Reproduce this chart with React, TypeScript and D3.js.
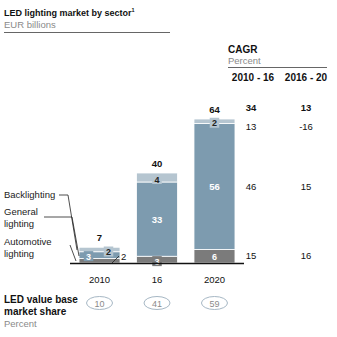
import React from "react";
import * as d3 from "d3";

const years = ["2010", "16", "2020"];
const automotive = [2, 3, 6];
const general = [3, 33, 56];
const backlighting = [2, 4, 2];
const totals = [7, 40, 64];
const ledShare = [10, 41, 59];
const cagrHeaders = ["2010 - 16", "2016 - 20"];
const cagrTotal = [34, 13];
const cagrBacklighting = [13, -16];
const cagrGeneral = [46, 15];
const cagrAutomotive = [15, 16];

const COLORS = { automotive: "#7b7b7b", general: "#7d9baf", backlighting: "#b5c5d0" };
const FONT = "Liberation Sans, Arial, sans-serif";

export default function App() {
  const x = d3.scaleBand<string>().domain(years).range([70, 244]).paddingInner(0.287).paddingOuter(0.157);
  const y = d3.scaleLinear().domain([0, 64]).range([263, 119]);
  const bw = x.bandwidth();

  const stacks = years.map((yr, i) => {
    const a0 = 0, a1 = automotive[i];
    const g0 = a1, g1 = a1 + general[i];
    const b0 = g1, b1 = g1 + backlighting[i];
    return { yr, i, segs: [
      { key: "automotive", v0: a0, v1: a1, val: automotive[i] },
      { key: "general", v0: g0, v1: g1, val: general[i] },
      { key: "backlighting", v0: b0, v1: b1, val: backlighting[i] },
    ] };
  });

  const headerX = [253, 306];
  const colX = [251, 306];
  const rowY = {
    total: y(64) - 8,
    back: y(64) + 11,
    general: (y(6) + y(62)) / 2 + 3,
    auto: (y(0) + y(6)) / 2 + 3,
  };

  const labelBox = (cx: number, cy: number, text: string, fill: string, color: string, key: string) => {
    const w = text.length * 5.5 + 4;
    return (
      <g key={key}>
        <rect x={cx - w / 2} y={cy - 5} width={w} height={10} fill={fill} />
        <text x={cx} y={cy + 3.5} textAnchor="middle" fontSize={9} fontWeight="bold" fill={color}>{text}</text>
      </g>
    );
  };

  return (
    <svg width={337} height={337} style={{ position: "fixed", left: 0, top: 0, background: "#fff" }} fontFamily={FONT}>
      {/* Title */}
      <text x={4} y={16} fontSize={9} fontWeight="bold" fill="#111">LED lighting market by sector<tspan fontSize={5.5} dy={-4}>1</tspan></text>
      <text x={4} y={28} fontSize={9.5} fill="#8a8a8a">EUR billions</text>
      <line x1={4} x2={170} y1={32.5} y2={32.5} stroke="#666" strokeWidth={1.2} />

      {/* CAGR header */}
      <text x={228} y={53} fontSize={10} fontWeight="bold" fill="#111">CAGR</text>
      <text x={228} y={64} fontSize={9.5} fill="#8a8a8a">Percent</text>
      <line x1={228} x2={327} y1={67.5} y2={67.5} stroke="#666" strokeWidth={1.2} />
      {cagrHeaders.map((h, j) => (
        <text key={h} x={headerX[j]} y={81} fontSize={10} fontWeight="bold" fill="#111" textAnchor="middle">{h}</text>
      ))}
      {colX.map((cx, j) => (
        <g key={"c" + j} fontSize={9.5} textAnchor="middle" fill="#111">
          <text x={cx} y={rowY.total} fontWeight="bold">{cagrTotal[j]}</text>
          <text x={cx} y={rowY.back}>{cagrBacklighting[j]}</text>
          <text x={cx} y={rowY.general}>{cagrGeneral[j]}</text>
          <text x={cx} y={rowY.auto}>{cagrAutomotive[j]}</text>
        </g>
      ))}

      {/* Bars */}
      {stacks.map(s => (
        <g key={s.yr}>
          {s.segs.map(seg => (
            <rect key={seg.key} x={x(s.yr)!} y={y(seg.v1)} width={bw} height={y(seg.v0) - y(seg.v1)}
              fill={(COLORS as any)[seg.key]} stroke="#fff" strokeWidth={0.8} />
          ))}
          <text x={x(s.yr)! + bw / 2} y={y(totals[s.i]) - 6} textAnchor="middle" fontSize={9.5} fontWeight="bold" fill="#111">{totals[s.i]}</text>
        </g>
      ))}

      {/* Segment labels */}
      {stacks.map(s => {
        const cx = x(s.yr)! + bw / 2;
        if (s.i === 0) {
          const gy = (y(s.segs[1].v0) + y(s.segs[1].v1)) / 2;
          const by = (y(s.segs[2].v0) + y(s.segs[2].v1)) / 2;
          return (
            <g key={"l" + s.yr}>
              {labelBox(cx - 11, gy + 1, String(general[0]), COLORS.general, "#fff", "g")}
              {labelBox(cx + 9, by + 2, String(backlighting[0]), COLORS.backlighting, "#222", "b")}
              <line x1={112} y1={263} x2={119} y2={256} stroke="#222" strokeWidth={0.8} />
              <text x={121} y={260} fontSize={9.5} fill="#111">{automotive[0]}</text>
            </g>
          );
        }
        const ay = (y(s.segs[0].v0) + y(s.segs[0].v1)) / 2;
        const gy = (y(s.segs[1].v0) + y(s.segs[1].v1)) / 2;
        const by = (y(s.segs[2].v0) + y(s.segs[2].v1)) / 2;
        return (
          <g key={"l" + s.yr}>
            {labelBox(cx, ay + (s.i === 1 ? 1.5 : 0), String(automotive[s.i]), COLORS.automotive, "#fff", "a")}
            <text x={cx} y={gy + 3.5} textAnchor="middle" fontSize={9.5} fontWeight="bold" fill="#fff">{general[s.i]}</text>
            {labelBox(cx, by + 1.5, String(backlighting[s.i]), COLORS.backlighting, "#222", "b")}
          </g>
        );
      })}

      {/* Axis baseline */}
      <line x1={70} x2={244} y1={263.5} y2={263.5} stroke="#111" strokeWidth={1.5} />

      {/* Year labels */}
      {years.map(yr => (
        <text key={"y" + yr} x={x(yr)! + bw / 2} y={283} textAnchor="middle" fontSize={9.5} fill="#111">{yr}</text>
      ))}

      {/* Left annotations */}
      <g fontSize={9.5} fill="#222">
        <text x={4} y={198}>Backlighting</text>
        <text x={4} y={215}>General</text>
        <text x={4} y={227}>lighting</text>
        <text x={4} y={245}>Automotive</text>
        <text x={4} y={257}>lighting</text>
      </g>
      <g fill="none" stroke="#222" strokeWidth={0.8}>
        <polyline points="59,195 68,195 77,250" />
        <polyline points="44,217 72,217 79,256" />
        <polyline points="70,245 76,261" />
      </g>

      {/* LED share */}
      <text x={4} y={303} fontSize={10} fontWeight="bold" fill="#111">LED value base</text>
      <text x={4} y={315} fontSize={10} fontWeight="bold" fill="#111">market share</text>
      <text x={4} y={327} fontSize={9.5} fill="#8a8a8a">Percent</text>
      {years.map((yr, i) => (
        <g key={"s" + yr}>
          <ellipse cx={x(yr)! + bw / 2} cy={303} rx={13} ry={6.5} fill="none" stroke="#a6b7c4" strokeWidth={1} />
          <text x={x(yr)! + bw / 2} y={306.5} textAnchor="middle" fontSize={9} fill="#8a8a8a">{ledShare[i]}</text>
        </g>
      ))}
    </svg>
  );
}
